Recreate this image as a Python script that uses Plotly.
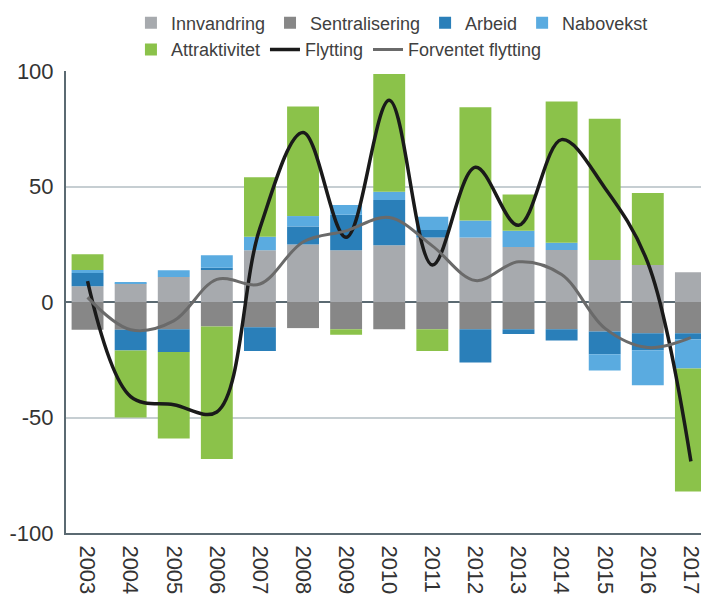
import plotly.graph_objects as go

years = ["2003", "2004", "2005", "2006", "2007", "2008", "2009", "2010",
         "2011", "2012", "2013", "2014", "2015", "2016", "2017"]

innvandring = [6.8, 8.0, 10.8, 13.8, 22.4, 24.9, 22.4, 24.6, 27.9, 27.9, 23.8, 22.5, 18.2, 16.0, 12.9]
sentralisering = [-12.0, -12.0, -11.8, -10.6, -10.9, -11.3, -11.8, -11.8, -11.8, -11.8, -11.8, -11.8, -12.8, -13.5, -13.5]
arbeid = [5.8, -9.0, -9.8, 1.0, -10.3, 7.8, 15.4, 19.6, 3.3, -14.4, -2.0, -4.9, -9.8, -7.4, -2.6]
nabovekst = [1.2, 0.5, 2.9, 5.4, 5.9, 4.5, 4.2, 3.5, 5.7, 7.4, 7.0, 3.2, -7.0, -15.1, -12.7]
attraktivitet = [6.9, -29.0, -37.5, -57.4, 25.7, 47.4, -2.4, 51.0, -9.4, 49.0, 15.7, 61.1, 61.1, 31.2, -53.2]
flytting = [9.0, -41.0, -44.5, -47.6, 32.0, 73.4, 28.0, 87.3, 16.0, 58.3, 33.2, 70.3, 49.5, 17.0, -69.0]
forventet = [2.0, -12.0, -8.2, 9.8, 7.8, 26.0, 30.8, 36.6, 24.3, 9.3, 17.4, 11.9, -11.3, -19.7, -15.4]

y_tickvals = [-100, -50, 0, 50, 100]
y_ticktext = ["-100", "-50", "0", "50", "100"]

FONT = "Liberation Sans, Arial, sans-serif"
AXIS = "#5b6a72"

fig = go.Figure()

bars = [
    ("Innvandring", innvandring, "#a7aaae"),
    ("Sentralisering", sentralisering, "#878787"),
    ("Arbeid", arbeid, "#2a7fb9"),
    ("Nabovekst", nabovekst, "#5aabe0"),
    ("Attraktivitet", attraktivitet, "#8bc24a"),
]
for name, vals, col in bars:
    fig.add_trace(go.Bar(
        x=years, y=vals, name=name, marker_color=col,
        marker_line_width=0,
        legend="legend2" if name == "Attraktivitet" else "legend",
    ))

fig.add_trace(go.Scatter(
    x=years, y=flytting, name="Flytting", mode="lines",
    line=dict(color="#1a1a1a", width=3.5, shape="spline", smoothing=1.0),
    legend="legend2",
))
fig.add_trace(go.Scatter(
    x=years, y=forventet, name="Forventet flytting", mode="lines",
    line=dict(color="#6a6a6a", width=3, shape="spline", smoothing=1.0),
    legend="legend2",
))

legend_common = dict(
    orientation="h", xanchor="left", yanchor="middle",
    font=dict(family=FONT, size=18, color="#404040"),
    bgcolor="rgba(0,0,0,0)", traceorder="normal",
)

# page body has an 8px margin, so the figure is 8px smaller than the window
fig.update_layout(
    width=701, height=587, autosize=False,
    margin=dict(l=58, r=0, t=63, b=62, autoexpand=False),
    paper_bgcolor="white", plot_bgcolor="white",
    barmode="relative", bargap=0.26,
    font=dict(family=FONT, color="#333333"),
    legend=dict(x=0.101, y=1.104, **legend_common),
    legend2=dict(x=0.101, y=1.046, **legend_common),
    xaxis=dict(
        type="category", range=[-0.5, 14.42], automargin=False,
        tickangle=90, tickfont=dict(family=FONT, size=22, color="#333333"),
        showline=True, linecolor=AXIS, linewidth=2,
        showgrid=False, ticks="", ticklen=0, ticklabelstandoff=6,
    ),
    yaxis=dict(
        range=[-100, 100], tickmode="array", tickvals=y_tickvals, ticktext=y_ticktext,
        automargin=False,
        tickfont=dict(family=FONT, size=22, color="#333333"),
        showgrid=True, gridcolor="#c6ced2", gridwidth=2,
        zeroline=True, zerolinecolor=AXIS, zerolinewidth=2,
        showline=True, linecolor=AXIS, linewidth=2,
        ticks="", ticklen=0, ticklabelstandoff=6,
    ),
)

fig.write_html("out.html")
